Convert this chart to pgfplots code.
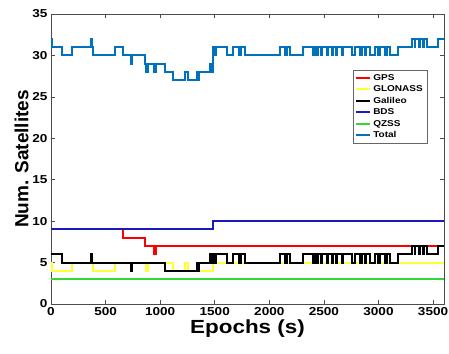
\documentclass[border=0pt]{standalone}
\usepackage{pgfplots}
\pgfplotsset{compat=1.18}
\usepackage{fontspec}
\setmainfont{Liberation Sans}
\newfontfamily\wide{Liberation Sans}[FakeStretch=1.18]
\definecolor{mblue}{rgb}{0,0.447,0.741}
\definecolor{bdsblue}{rgb}{0.1,0.1,0.75}
\definecolor{qzgreen}{rgb}{0.2,0.85,0.2}
\definecolor{glyellow}{rgb}{1,1,0.2}
\begin{document}
\begin{tikzpicture}
\begin{axis}[
  scale only axis, width=393pt, height=290pt,
  xmin=0, xmax=3600, ymin=0, ymax=35,
  xtick={0,500,...,3500}, ytick={0,5,...,35},
  tick align=inside, major tick length=4pt,
  axis line style={draw=black!70, line width=0.6pt},
  tick style={draw=black!70, line width=0.6pt},
  /pgf/number format/assume math mode=true,
  /pgf/number format/1000 sep={},
  ticklabel style={font=\wide\bfseries\fontsize{11.5}{12}\selectfont},
  xlabel={Epochs (s)}, ylabel={Num. Satellites},
  xlabel style={font=\wide\bfseries\fontsize{19}{21}\selectfont, yshift=3pt},
  ylabel style={font=\bfseries\fontsize{19}{21}\selectfont, yshift=-3pt},
  legend style={at={(0.957,0.807)}, anchor=north east, draw=black!60, line width=0.5pt,
    font=\wide\bfseries\fontsize{8.5}{10}\selectfont, inner sep=2pt, row sep=0pt,
    legend cell align=left},
  legend image code/.code={\draw[#1] (0pt,0pt) -- (14pt,0pt);},
]
\addplot[red, const plot, line width=2pt, forget plot] coordinates {(0,9)(656,8)(861,7)(940,6)(962,7)(3600,7)};
\addplot[glyellow, const plot, line width=2pt, forget plot] coordinates {(0,5)(10,4)(189,5)(387,4)(586,5)(872,4)(884,5)(1120,4)(1225,5)(1255,4)(1483,5)(3600,5)};
\addplot[black, const plot, line width=2pt, forget plot] coordinates {(0,6)(98,5)(365,6)(378,5)(735,4)(745,5)(1044,4)(1334,5)(1345,4)(1358,5)(1460,6)(1475,5)(1480,6)(1500,5)(1510,6)(1609,5)(1670,6)(1725,5)(1740,6)(1777,5)(2097,6)(2143,5)(2158,6)(2189,5)(2311,6)(2402,5)(2418,6)(2433,5)(2448,6)(2470,5)(2478,6)(2525,5)(2540,6)(2570,5)(2585,6)(2610,5)(2618,6)(2662,5)(2677,6)(2754,5)(2784,6)(2830,5)(2845,6)(2880,5)(2888,6)(2921,5)(2967,6)(2997,5)(3013,6)(3059,5)(3074,6)(3104,5)(3178,6)(3303,7)(3330,6)(3338,7)(3370,6)(3380,7)(3410,6)(3418,7)(3440,6)(3547,7)(3600,7)};
\addplot[bdsblue, const plot, line width=2pt, forget plot] coordinates {(0,9)(1483,10)(3600,10)};
\addplot[qzgreen, const plot, line width=2pt, forget plot] coordinates {(0,3)(3600,3)};
\addplot[mblue, const plot, line width=2pt, forget plot] coordinates {(0,32)(10,31)(98,30)(189,31)(365,32)(378,31)(387,30)(586,31)(656,30)(735,29)(745,30)(861,29)(872,28)(884,29)(940,28)(962,29)(1044,28)(1120,27)(1225,28)(1255,27)(1334,28)(1345,27)(1358,28)(1460,29)(1475,28)(1480,29)(1483,31)(1500,30)(1510,31)(1609,30)(1670,31)(1725,30)(1740,31)(1777,30)(2097,31)(2143,30)(2158,31)(2189,30)(2311,31)(2402,30)(2418,31)(2433,30)(2448,31)(2470,30)(2478,31)(2525,30)(2540,31)(2570,30)(2585,31)(2610,30)(2618,31)(2662,30)(2677,31)(2754,30)(2784,31)(2830,30)(2845,31)(2880,30)(2888,31)(2921,30)(2967,31)(2997,30)(3013,31)(3059,30)(3074,31)(3104,30)(3178,31)(3303,32)(3330,31)(3338,32)(3370,31)(3380,32)(3410,31)(3418,32)(3440,31)(3547,32)(3600,32)};
\addlegendimage{red, line width=2pt}
\addlegendentry{GPS}
\addlegendimage{glyellow, line width=2pt}
\addlegendentry{GLONASS}
\addlegendimage{black, line width=2pt}
\addlegendentry{Galileo}
\addlegendimage{bdsblue, line width=2pt}
\addlegendentry{BDS}
\addlegendimage{qzgreen, line width=2pt}
\addlegendentry{QZSS}
\addlegendimage{mblue, line width=2pt}
\addlegendentry{Total}
\coordinate (sw) at (rel axis cs:0,0);
\coordinate (ne) at (rel axis cs:1,1);
\end{axis}
\pgfresetboundingbox
\path ([shift={(-51pt,-49pt)}]sw) rectangle ([shift={(5pt,14pt)}]ne);
\end{tikzpicture}
\end{document}
